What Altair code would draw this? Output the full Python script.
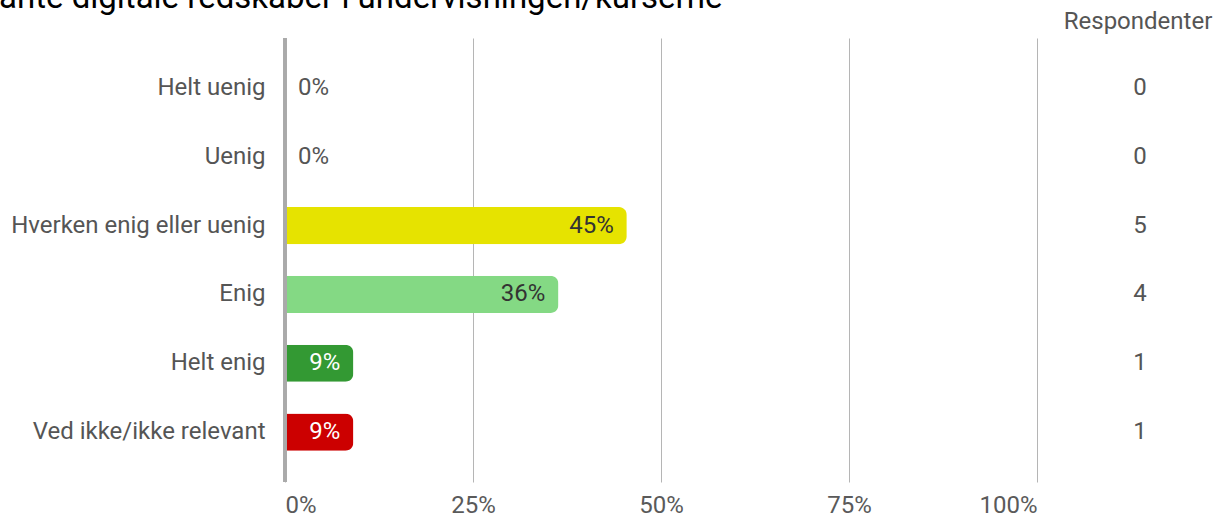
import altair as alt
import pandas as pd

categories = ["Helt uenig", "Uenig", "Hverken enig eller uenig", "Enig", "Helt enig", "Ved ikke/ikke relevant"]
shares = [0.0, 0.0, 0.4545, 0.3636, 0.0909, 0.0909]
pct_labels = ["0%", "0%", "45%", "36%", "9%", "9%"]
respondents = [0, 0, 5, 4, 1, 1]
bar_colors = ["#e6e300", "#e6e300", "#e6e300", "#84d984", "#339933", "#cc0000"]
label_colors = ["#333333", "#333333", "#333333", "#333333", "#ffffff", "#ffffff"]
x_ticks = [0, 0.25, 0.5, 0.75, 1.0]
title_text = "ante digitale redskaber i undervisningen/kurserne"
header_text = "Respondenter"

df = pd.DataFrame({
    "cat": categories,
    "share": shares,
    "label": pct_labels,
    "n": respondents,
    "color": bar_colors,
    "tcolor": label_colors,
})

FONT = "Roboto"
FS = 24

y_enc = alt.Y("cat:N", sort=categories, title=None,
              scale=alt.Scale(paddingInner=0.46, paddingOuter=0.455),
              axis=alt.Axis(domain=False, ticks=False, labelFontSize=FS, labelFont=FONT,
                            labelColor="#555555", labelPadding=20, labelLimit=400))
x_enc = alt.X("share:Q", title=None,
              scale=alt.Scale(domain=[0, 1], nice=False),
              axis=alt.Axis(values=x_ticks, format="%", domain=False, ticks=False,
                            labelFontSize=FS, labelFont=FONT, labelColor="#5a5a5a",
                            labelPadding=11, labelFlush=True, grid=True,
                            gridColor="#b5b5b5", gridWidth=1))

base = alt.Chart(df)

bars = base.mark_bar(cornerRadiusEnd=8).encode(
    x=x_enc, y=y_enc, color=alt.Color("color:N", scale=None))

zero_rule = base.mark_rule(color="#aaaaaa", strokeWidth=3).encode(
    x=alt.datum(0), y=alt.value(0), y2=alt.value(444))

txt_pos = base.transform_filter("datum.share > 0").mark_text(
    align="right", baseline="middle", dx=-13, fontSize=FS, font=FONT).encode(
    x="share:Q", y=alt.Y("cat:N", sort=categories),
    text="label:N", color=alt.Color("tcolor:N", scale=None))

txt_zero = base.transform_filter("datum.share == 0").mark_text(
    align="left", baseline="middle", dx=13, fontSize=FS, font=FONT, color="#555555").encode(
    x="share:Q", y=alt.Y("cat:N", sort=categories), text="label:N")

counts = base.mark_text(align="center", baseline="middle", fontSize=FS, font=FONT,
                        color="#555555").encode(
    x=alt.value(855), y=alt.Y("cat:N", sort=categories), text="n:Q")

header = alt.Chart(pd.DataFrame({"t": [header_text]})).mark_text(
    align="center", baseline="alphabetic", fontSize=FS, font=FONT, color="#555555").encode(
    x=alt.value(853), y=alt.value(-9), text="t:N")

title = alt.Chart(pd.DataFrame({"t": [title_text]})).mark_text(
    align="left", baseline="alphabetic", fontSize=33, font=FONT, color="#000000").encode(
    x=alt.value(-286), y=alt.value(-30), text="t:N")

chart = alt.layer(bars, zero_rule, txt_pos, txt_zero, counts, header, title).properties(
    width=752, height=444,
    autosize=alt.AutoSizeParams(type="none"),
    padding={"left": 285, "top": 38, "right": 180, "bottom": 33},
).configure_view(stroke=None)

chart.save("out.html", embed_options={"renderer": "svg", "actions": False})
